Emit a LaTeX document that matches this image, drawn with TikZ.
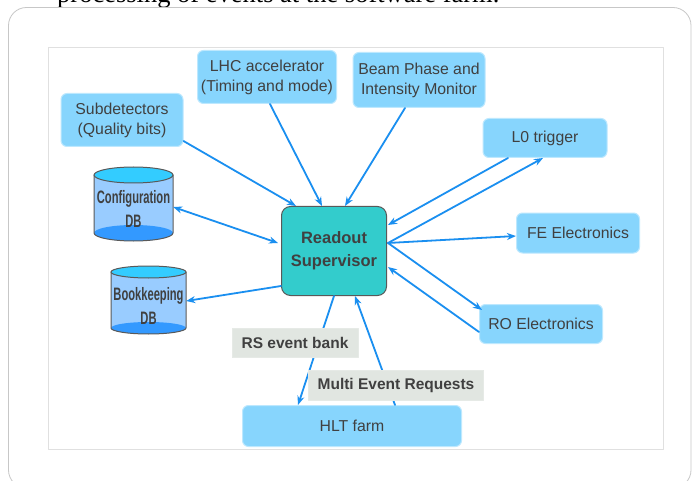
\documentclass[tikz,border=0pt]{standalone}
\usepackage{fontspec}
\setmainfont{Liberation Serif}
\setsansfont{Liberation Sans}
\newfontfamily\dbfont[FakeStretch=0.62]{Liberation Sans}
\usetikzlibrary{arrows.meta}
\definecolor{boxblue}{HTML}{87D5FD}
\definecolor{rsteal}{HTML}{33CCCC}
\definecolor{arrblue}{HTML}{1A8FF0}
\definecolor{txtgray}{HTML}{404040}
\definecolor{tagbg}{HTML}{E1E6E1}
\definecolor{dbtop}{HTML}{33CCFF}
\definecolor{dbbody}{HTML}{99CCFF}
\definecolor{dbbot}{HTML}{3399FF}
\begin{document}
\begin{tikzpicture}[x=1pt, y=-1pt, line join=round, line cap=round, >={Stealth[length=9pt,width=7pt]},
	blk/.style={rounded corners=6pt, fill=boxblue, draw=boxblue!55!white, line width=1pt, text=txtgray, align=center, inner sep=0pt, font=\sffamily\fontsize{15.8}{20}\selectfont},
	tag/.style={fill=tagbg, draw=tagbg!85!white, text=txtgray, inner sep=0pt, font=\sffamily\bfseries\fontsize{15.5}{17}\selectfont},
	dbtxt/.style={text=txtgray, align=center, inner sep=0pt, font=\dbfont\bfseries\fontsize{18}{24}\selectfont},
	link/.style={draw=arrblue, line width=1.8pt}]
	\useasboundingbox (0,0) rectangle (693,481);
	\clip (0,0) rectangle (693,481);
	\fill[white] (0,0) rectangle (693,481);
	\node[anchor=base west, inner sep=0pt, font=\fontsize{26.5}{30}\selectfont] (title) at (57,3) {processing of events at the software farm.};
	\draw[black!22, line width=0.8pt, rounded corners=18pt] (8.5,7.5) rectangle (691,488);
	\draw[black!12, fill=white, line width=0.8pt] (48,47) rectangle (663,449);
	\foreach \cx/\rx/\ty/\by/\ry in {133.5/39.5/175/233/8, 148.5/37.5/272/328/6}{
		\fill[dbbody] (\cx-\rx,\ty) rectangle (\cx+\rx,\by);
		\fill[dbbot] (\cx,\by) ellipse ({\rx} and {\ry});
		\draw[black!65, line width=1pt] (\cx-\rx,\ty) -- (\cx-\rx,\by) arc[start angle=180, end angle=0, x radius=\rx, y radius=\ry] -- (\cx+\rx,\ty);
		\filldraw[fill=dbtop, draw=black!65, line width=1pt] (\cx,\ty) ellipse ({\rx} and {\ry});
	}
	\node[dbtxt, minimum width=79, minimum height=66] (cfg) at (133.5,209) {Configuration\\DB};
	\node[dbtxt, minimum width=75, minimum height=60] (bk) at (148.5,306) {Bookkeeping\\DB};
	\node[blk, minimum width=122, minimum height=53] (sub) at (122,120) {Subdetectors\\(Quality bits)};
	\node[blk, minimum width=139, minimum height=53] (lhc) at (267,77) {LHC accelerator\\(Timing and mode)};
	\node[blk, minimum width=132, minimum height=55] (bpim) at (419,80) {Beam Phase and\\Intensity Monitor};
	\node[blk, minimum width=124, minimum height=39] (l0) at (545,138) {L0 trigger};
	\node[blk, minimum width=123, minimum height=40] (fe) at (578,233) {FE Electronics};
	\node[blk, minimum width=123, minimum height=39] (ro) at (541,324) {RO Electronics};
	\node[blk, minimum width=219, minimum height=41] (hlt) at (352,426) {HLT farm};
	\node[rounded corners=9pt, fill=rsteal, draw=black!65, line width=1pt, text=txtgray, align=center, inner sep=0pt, minimum width=105, minimum height=89, font=\sffamily\bfseries\fontsize{16.5}{23}\selectfont] (rs) at (334,251) {Readout\\Supervisor};
	\draw[link,->] ([yshift=6]sub.south east) -- ([xshift=15]rs.north west);
	\draw[link,->] ([xshift=3]lhc.south) -- ([xshift=-12]rs.north);
	\draw[link,->] ([xshift=-14]bpim.south) -- ([xshift=11]rs.north);
	\draw[link,->] ([xshift=-37]l0.south) -- ([xshift=1,yshift=26]rs.east);
	\draw[link,->] ([xshift=1,yshift=8]rs.east) -- ([xshift=-2]l0.south);
	\draw[link,->] ([xshift=1,yshift=8]rs.east) -- ([yshift=-3]fe.west);
	\draw[link,->] ([xshift=1,yshift=8]rs.east) -- ([xshift=3,yshift=-6]ro.north west);
	\draw[link,->] ([yshift=-8]ro.west) -- ([xshift=1,yshift=-16]rs.east);
	\draw[link,<->] ([yshift=2]cfg.east) -- ([xshift=-3,yshift=8]rs.west);
	\draw[link,->] ([yshift=-35]rs.west) -- ([yshift=5]bk.east);
	\draw[link,->] (rs.south) -- ([xshift=-54]hlt.north);
	\draw[link,->] ([xshift=43]hlt.north) -- ([xshift=21]rs.south);
	\node[tag, minimum width=126, minimum height=29] (evbank) at (295,343) {RS event bank};
	\node[tag, minimum width=175, minimum height=30] (mer) at (396,385) {Multi Event Requests};
\end{tikzpicture}
\end{document}
